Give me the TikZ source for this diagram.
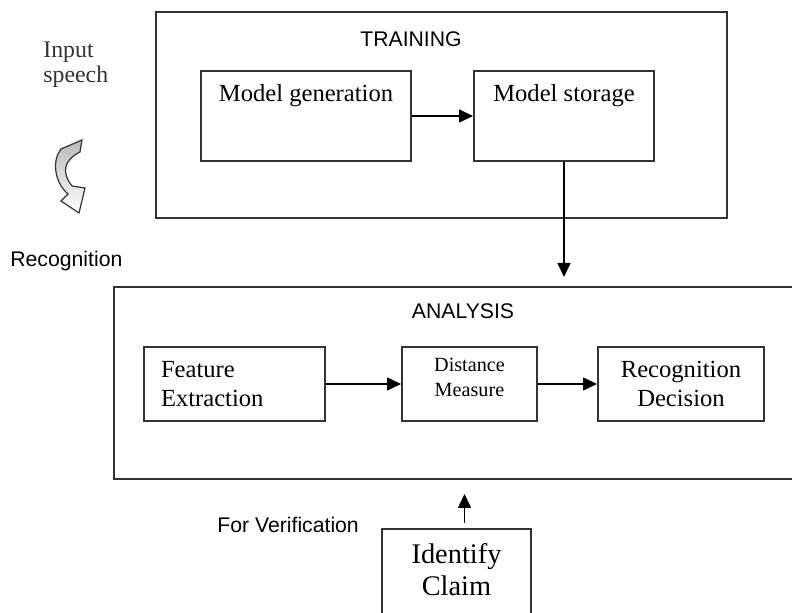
\documentclass[tikz,border=0pt]{standalone}
\usepackage{fontspec}
\setmainfont{Liberation Serif}
\setsansfont{Liberation Sans}
\usetikzlibrary{arrows.meta,positioning}

\begin{document}
\begin{tikzpicture}[x=0.5pt,y=-0.5pt]
		\tikzstyle{stage}=[draw=black!80, line width=1pt, inner sep=0pt]
		\tikzstyle{block}=[draw=black!80, line width=1pt, inner sep=0pt, align=center, font=\fontsize{12.3}{14.5}\selectfont]
		\tikzstyle{stage_text}=[font=\sffamily\fontsize{10.6}{12}\selectfont, inner sep=0pt]
		\tikzstyle{block_text}=[font=\fontsize{12.3}{14.5}\selectfont, inner sep=0pt, align=center]
		\tikzstyle{side_text}=[font=\sffamily\fontsize{10.6}{12}\selectfont, inner sep=0pt, anchor=base west]
		\tikzstyle{arrow}=[line width=0.8pt, -{Triangle[length=7pt,width=6.5pt]}]

		\useasboundingbox (0,0) rectangle (792,613);
		\clip (0,0) rectangle (792,613);

		% training part
		\node (training) [stage, minimum width=285.5pt, minimum height=103pt] at (441.5,115) {};
		\node at (411,39) [stage_text] {TRAINING};
		\node (gen) [block, minimum width=105pt, minimum height=45pt] at (306,116) {};
		\node (store) [block, minimum width=90pt, minimum height=45pt, right=30.5pt of gen] {};
		\node [block_text, below=7pt of gen.north] {Model generation};
		\node [block_text, below=7pt of store.north] {Model storage};

		% analysis part
		\node (analysis) [stage, minimum width=343pt, minimum height=96pt] at (457,383) {};
		\node at (463,311.5) [stage_text] {ANALYSIS};
		\node (feat) [block, align=left, text width=73.5pt, inner xsep=8.5pt, minimum height=37pt] at (234.5,384) {Feature\\Extraction};
		\node (dist) [block, minimum width=67.5pt, minimum height=37pt, right=37.5pt of feat] {};
		\node (decide) [block, minimum width=83pt, minimum height=37pt, right=29.5pt of dist] {Recognition\\Decision};
		\node [block_text, below=6pt of dist.north, font=\fontsize{10.1}{12.5}\selectfont] {Distance\\Measure};

		% claim
		\node (claim) [block, minimum width=74.5pt, minimum height=56pt, anchor=north] at (456.5,528) {};
		\node [block_text, below=7.5pt of claim.north, font=\fontsize{14.2}{16}\selectfont] {Identify\\Claim};

		% side labels
		\node (input) [block_text, anchor=north west, align=left, font=\fontsize{11.9}{12.5}\selectfont, text=black!80] at (43,42) {Input\\speech};
		\node (recog) [side_text] at (10,267) {Recognition};
		\node (verify) [side_text] at (217,533) {For Verification};

		% curved arrow
		\path [draw=black!80, line width=0.6pt, top color=gray!55, bottom color=white]
			(61,149) -- (82,140) -- (80,152) .. controls (64,160) and (61,172) .. (72,186)
			-- (85,188) -- (79,213) -- (61,201) -- (68,194) .. controls (54,182) and (52,160) .. (61,149) -- cycle;

		\draw [arrow] (gen) -- (store);
		\draw [arrow, shorten >=4.5pt] (store.south) -- (store.south |- analysis.north);
		\draw [arrow] (feat) -- (dist);
		\draw [arrow] (dist) -- (decide);
		\draw [arrow, shorten <=2.5pt, shorten >=7pt] ([xshift=4pt]claim.north) -- ([xshift=4pt]claim.north |- analysis.south);
	\end{tikzpicture}
\end{document}
